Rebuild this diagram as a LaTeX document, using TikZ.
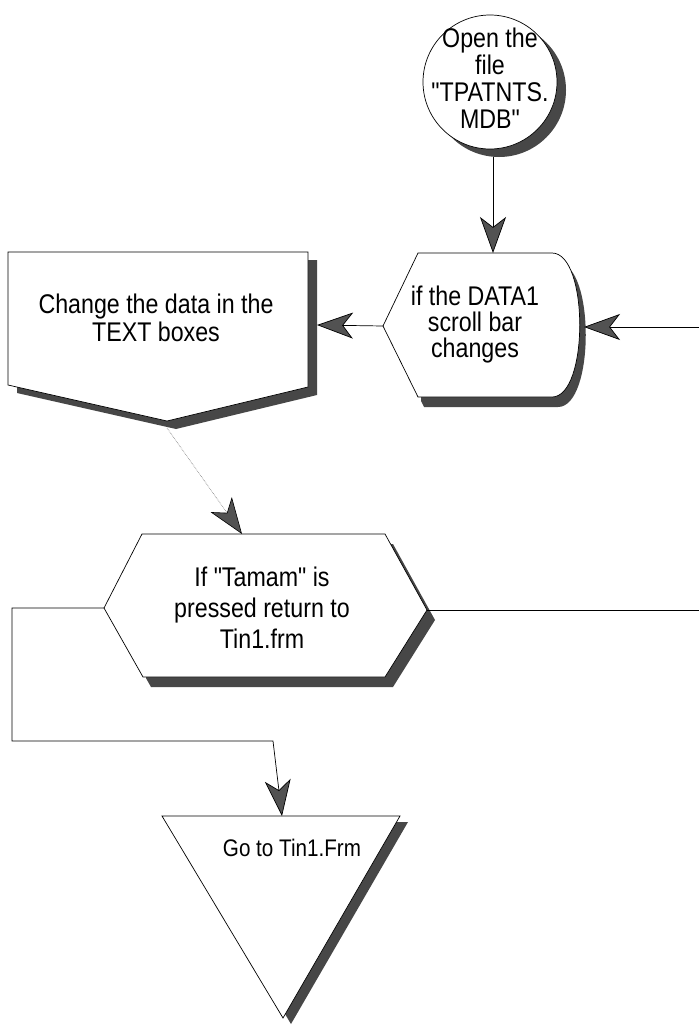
\documentclass[tikz,border=0pt]{standalone}
\usepackage{fontspec}
\setmainfont{Liberation Sans}
\newfontfamily\lsans{Liberation Sans}[FakeStretch=0.86]
\usetikzlibrary{arrows.meta}
\newcommand{\dq}{\symbol{34}}
\begin{document}
\begin{tikzpicture}[x=1pt,y=-1pt,
  shape line/.style={draw=black,line width=0.7pt,fill=white},
  shadow/.style={fill=black!72,draw=none},
  conn/.style={draw=black,line width=0.7pt},
  tip/.style={-{Stealth[length=36pt,width=26pt,inset=10pt,color=black,fill=black!68]}},
  arr/.style={conn,tip},
  darr/.style={draw=black!55,line width=0.6pt,densely dotted,tip},
  txt/.style={align=center,font=\lsans\fontsize{27}{27}\selectfont,inner sep=0pt}]
\useasboundingbox (0,0) rectangle (699,1028);
\fill[white] (0,0) rectangle (699,1028);

% ---- circle: Open the file
\fill[shadow] (499,90) circle (67);
\node[circle,shape line,minimum size=134pt,inner sep=0pt] (open) at (490,82) {};
\node[txt,font=\lsans\fontsize{27}{27}\selectfont] (opentxt) at (490,78) {Open the\\file\\\dq TPATNTS.\\MDB\dq};

% ---- display shape: if the DATA1 scroll bar changes
\begin{scope}
\clip (421,0) rectangle (699,1028);
\fill[shadow,shift={(6,10)}] (418,253) -- (552,253) .. controls (589,253) and (589,397) .. (552,397) -- (418,397) -- (383,326) -- cycle;
\end{scope}
\path[shape line] (418,253) -- (552,253) .. controls (589,253) and (589,397) .. (552,397) -- (418,397) -- (383,326) -- cycle;
\node[txt,font=\lsans\fontsize{27}{26}\selectfont] (data1) at (475,325) {if the DATA1\\scroll bar\\changes};
\coordinate (d1top) at (493,253);
\coordinate (d1right) at (584,327);
\coordinate (d1left) at (383,326);

% ---- off-page connector: Change the data
\fill[shadow,shift={(9,8)}] (8,252) -- (308,252) -- (308,387) -- (167,421) -- (8,385) -- cycle;
\path[shape line] (8,252) -- (308,252) -- (308,387) -- (167,421) -- (8,385) -- cycle;
\node[txt,font=\lsans\fontsize{27}{28}\selectfont] (change) at (156,318) {Change the data in the\\TEXT boxes};
\coordinate (chright) at (317,325);
\coordinate (chbot) at (167,428);

% ---- hexagon: If "Tamam"
\begin{scope}
\clip (146,0) rectangle (699,1028);
\fill[shadow,shift={(8,10)}] (142,534) -- (385,534) -- (427,610) -- (385,677) -- (143,677) -- (104,608) -- cycle;
\end{scope}
\path[shape line] (142,534) -- (385,534) -- (427,610) -- (385,677) -- (143,677) -- (104,608) -- cycle;
\node[txt,font=\lsans\fontsize{27}{31}\selectfont] (tamam) at (262,608) {If \dq Tamam\dq\ is\\pressed return to\\Tin1.frm};
\coordinate (hextop) at (242,534);
\coordinate (hexright) at (427,610);
\coordinate (hexleft) at (104,608);

% ---- triangle: Go to Tin1.Frm
\fill[shadow,shift={(8,6)}] (162,816) -- (400,816) -- (283,1018) -- cycle;
\path[shape line] (162,816) -- (400,816) -- (283,1018) -- cycle;
\node[txt,font=\lsans\fontsize{24}{26}\selectfont] (goto) at (292,848) {Go to Tin1.Frm};
\coordinate (tritop) at (282,816);

% ---- connectors
\coordinate (osouth) at (493,157);
\coordinate (rin) at (699,327);
\coordinate (rout) at (699,610);
\coordinate (l1) at (12,608);
\coordinate (l2) at (12,741);
\coordinate (l3) at (273,741);

\draw[arr] (osouth) -- (d1top);
\draw[arr] (rin) -- (d1right);
\draw[arr] (d1left) -- (chright);
\draw[darr] (chbot) -- (hextop);
\draw[conn] (hexright) -- (rout);
\draw[arr] (hexleft) -- (l1) -- (l2) -- (l3) -- (tritop);
\end{tikzpicture}
\end{document}
